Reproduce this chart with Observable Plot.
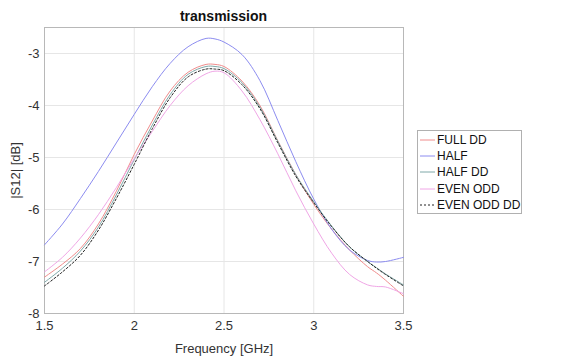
<!DOCTYPE html>
<html>
<head>
<meta charset="utf-8">
<script src="https://cdn.jsdelivr.net/npm/d3@7"></script>
<script src="https://cdn.jsdelivr.net/npm/@observablehq/plot@0.6"></script>
<style>
  html, body { margin: 0; padding: 0; background: #fff; }
  #wrap { position: relative; width: 563px; height: 360px; font-family: "Liberation Sans", Arial, sans-serif; }
  #title { position: absolute; left: 44px; width: 359px; top: 0; height: 24px; line-height: 32px; text-align: center; font-weight: bold; font-size: 14px; color: #111; }
  #chart { position: absolute; left: 0; top: 24px; }
  #legend { position: absolute; left: 417px; top: 130px; width: 105px; height: 84px; border: 1px solid #b0b0b0; background: #fff; box-sizing: border-box; font-size: 12px; color: #111; }
  .row { position: absolute; left: 0; height: 15px; display: flex; align-items: center; white-space: nowrap; }
  .row svg { margin-left: 2px; margin-right: 2px; }
</style>
</head>
<body>
<div id="wrap">
  <div id="title"></div>
  <div id="chart"></div>
  <div id="legend"></div>
</div>
<script>
const title = "transmission";
const xLabel = "Frequency [GHz]";
const yLabel = "|S12| [dB]";
const xTicks = [1.5, 2, 2.5, 3, 3.5];
const yTicks = [-8, -7, -6, -5, -4, -3];

const freq   = [1.5, 1.6, 1.7, 1.8, 1.9, 2.0, 2.1, 2.2, 2.3, 2.4, 2.45, 2.5, 2.6, 2.7, 2.8, 2.9, 3.0, 3.1, 3.2, 3.3, 3.35, 3.4, 3.5];
const fullDD = [-7.30, -7.05, -6.75, -6.28, -5.65, -4.94, -4.30, -3.72, -3.36, -3.21, -3.21, -3.25, -3.53, -4.00, -4.68, -5.33, -5.90, -6.38, -6.78, -7.10, -7.22, -7.36, -7.67];
const half   = [-6.68, -6.28, -5.79, -5.27, -4.72, -4.17, -3.64, -3.19, -2.87, -2.71, -2.72, -2.78, -3.02, -3.52, -4.29, -5.08, -5.80, -6.38, -6.78, -6.98, -7.01, -7.00, -6.92];
const halfDD = [-7.40, -7.13, -6.80, -6.34, -5.72, -5.04, -4.38, -3.79, -3.40, -3.25, -3.25, -3.29, -3.56, -4.03, -4.69, -5.33, -5.85, -6.32, -6.72, -7.00, -7.12, -7.24, -7.45];
const evenOdd = [-7.20, -6.92, -6.55, -6.10, -5.58, -5.02, -4.50, -4.00, -3.62, -3.39, -3.34, -3.37, -3.72, -4.27, -4.93, -5.64, -6.28, -6.84, -7.25, -7.45, -7.48, -7.49, -7.62];
const evenOddDD = [-7.47, -7.20, -6.88, -6.40, -5.79, -5.13, -4.45, -3.85, -3.45, -3.30, -3.30, -3.33, -3.60, -4.06, -4.72, -5.36, -5.87, -6.33, -6.72, -7.00, -7.13, -7.25, -7.47];

const seriesNames = ["FULL DD", "HALF", "HALF DD", "EVEN ODD", "EVEN ODD DD"];
const seriesValues = [fullDD, half, halfDD, evenOdd, evenOddDD];
const seriesColors = ["#f08c8c", "#8c8cf0", "#7fa8a8", "#f0a6e6", "#222222"];
const seriesDash = [null, null, null, null, "2,2"];

const rows = [];
seriesNames.forEach((name, i) => {
  freq.forEach((f, j) => rows.push({series: name, f, v: seriesValues[i][j]}));
});

const fmt = d => String(d);

const marks = [
  Plot.gridX(xTicks, {stroke: "#e6e6e6", strokeOpacity: 1}),
  Plot.gridY(yTicks, {stroke: "#e6e6e6", strokeOpacity: 1}),
  Plot.frame({stroke: "#b8b8b8"}),
  Plot.axisX(xTicks, {anchor: "bottom", tickSize: 0, tickPadding: 7, tickFormat: fmt, fontSize: 13, color: "#333",
    label: xLabel, labelAnchor: "center", labelArrow: "none", labelOffset: 39}),
  Plot.axisY(yTicks, {anchor: "left", tickSize: 0, tickPadding: 5, tickFormat: fmt, fontSize: 13, color: "#333",
    label: yLabel, labelAnchor: "center", labelArrow: "none", labelOffset: 34})
];
seriesNames.forEach((name, i) => {
  marks.push(Plot.line(rows.filter(r => r.series === name), {
    x: "f", y: "v", curve: "catmull-rom",
    stroke: seriesColors[i], strokeWidth: 1,
    strokeDasharray: seriesDash[i] || undefined
  }));
});

const chart = Plot.plot({
  width: 425,
  height: 336,
  marginTop: 3,
  marginBottom: 47,
  marginLeft: 44,
  marginRight: 22,
  style: {fontFamily: "'Liberation Sans', Arial, sans-serif", fontSize: "13.5px", background: "transparent", color: "#333"},
  x: {domain: [1.5, 3.5]},
  y: {domain: [-8, -2.5]},
  marks
});
document.getElementById("chart").appendChild(chart);
document.getElementById("title").textContent = title;

const legend = document.getElementById("legend");
seriesNames.forEach((name, i) => {
  const row = document.createElement("div");
  row.className = "row";
  row.style.top = (1 + i * 16.4) + "px";
  const dash = seriesDash[i] ? ` stroke-dasharray="${seriesDash[i]}"` : "";
  row.innerHTML = `<svg width="15" height="10"><line x1="0" y1="5" x2="15" y2="5" stroke="${seriesColors[i]}" stroke-width="1"${dash}/></svg><span>${name}</span>`;
  legend.appendChild(row);
});
</script>
</body>
</html>
